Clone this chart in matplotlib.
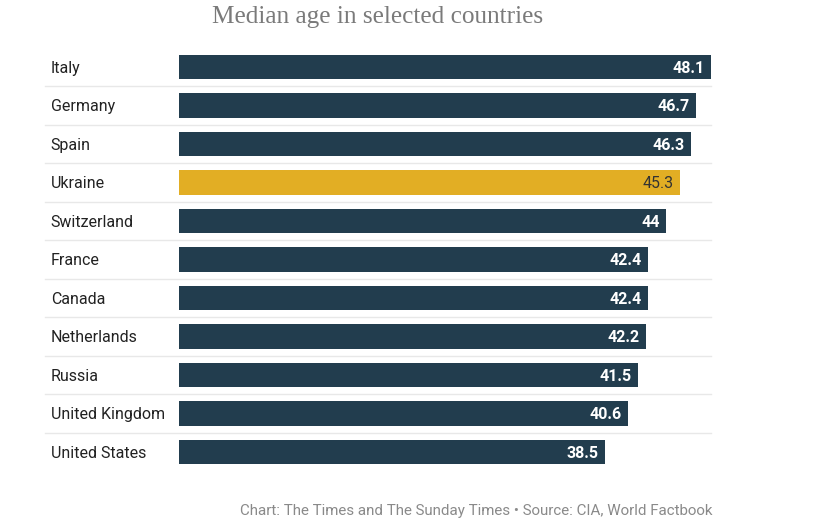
import matplotlib
matplotlib.use("Agg")
import matplotlib.pyplot as plt
import matplotlib.transforms as mtransforms

countries = ["Italy", "Germany", "Spain", "Ukraine", "Switzerland", "France",
             "Canada", "Netherlands", "Russia", "United Kingdom", "United States"]
median_age = [48.1, 46.7, 46.3, 45.3, 44, 42.4, 42.4, 42.2, 41.5, 40.6, 38.5]
value_labels = ["48.1", "46.7", "46.3", "45.3", "44", "42.4", "42.4", "42.2", "41.5", "40.6", "38.5"]
highlight = "Ukraine"

navy = "#223d4e"
gold = "#e2ae24"

fig = plt.figure(figsize=(8.17, 5.24), dpi=100)
ax = fig.add_axes([179 / 817, 1 - 471.25 / 524, 532 / 817, 423.5 / 524])

ypos = list(range(len(countries)))
colors = [gold if c == highlight else navy for c in countries]
ax.barh(ypos, median_age, height=0.63, color=colors, zorder=2)
ax.set_xlim(0, max(median_age))
ax.set_ylim(len(countries) - 0.5, -0.5)
ax.axis("off")

# row separators
trans = mtransforms.blended_transform_factory(ax.transAxes, ax.transData)
for i in range(len(countries) - 1):
    ax.plot([-0.252, 1.0], [i + 0.5, i + 0.5], transform=trans, color="#e8e8e8",
            lw=1, clip_on=False, zorder=1)

for i, (c, v, lab) in enumerate(zip(countries, median_age, value_labels)):
    ax.text(-0.241, i + 0.03, c, transform=trans, ha="left", va="center",
            fontsize=11.5, family="Roboto", color="#222222")
    if c == highlight:
        ax.text(v - 0.55, i + 0.03, lab, ha="right", va="center", fontsize=11.5,
                family="Roboto", color="#333333")
    else:
        ax.text(v - 0.55, i + 0.03, lab, ha="right", va="center", fontsize=11.5,
                family="Roboto", fontweight="bold", color="white")

fig.text(378 / 817, 1 - 16.5 / 524, "Median age in selected countries", ha="center",
         va="center", fontsize=18.2, family="Liberation Serif", color="#7a7a7a")
fig.text(713 / 817, 1 - 511 / 524,
         "Chart: The Times and The Sunday Times \u2022 Source: CIA, World Factbook",
         ha="right", va="center", fontsize=10.9, family="Roboto", color="#8a8a8a")

fig.savefig("out.png", dpi=100, facecolor="white")
